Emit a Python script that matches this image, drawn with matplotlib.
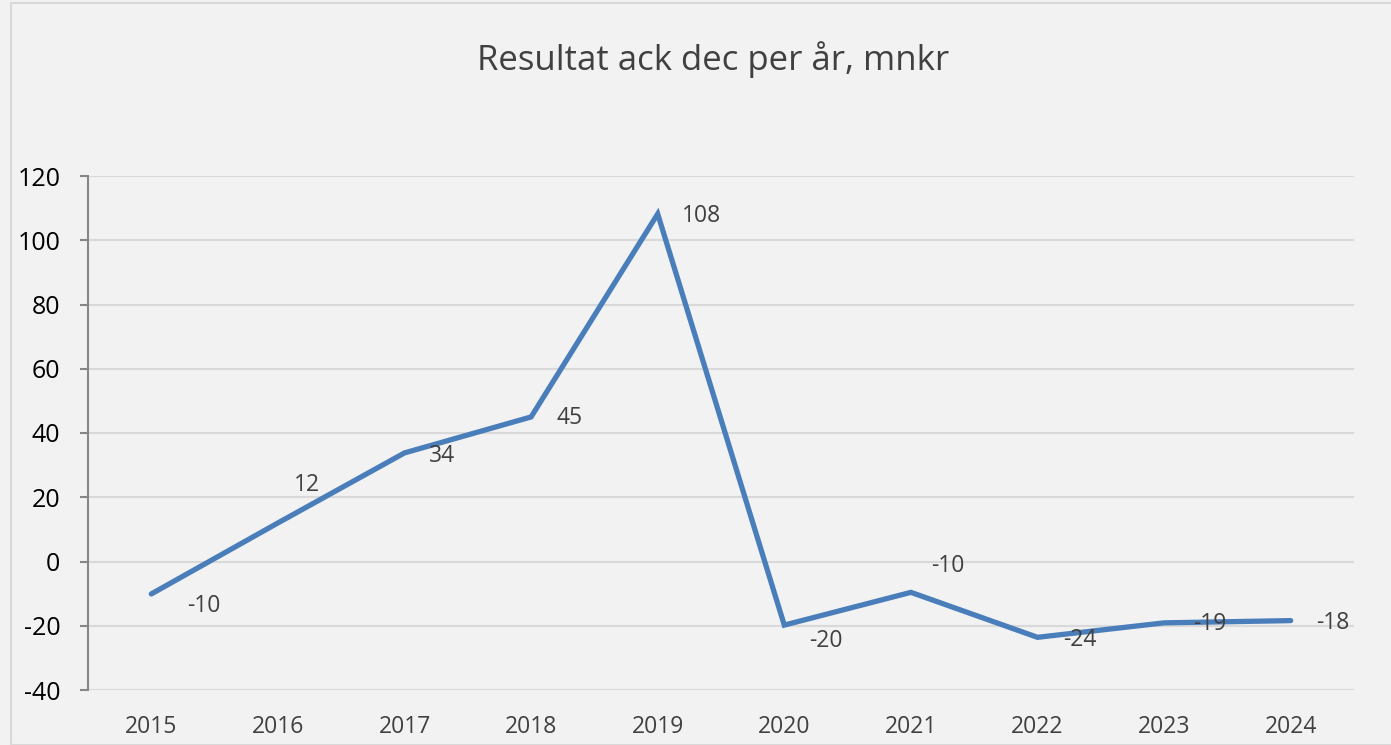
import matplotlib
matplotlib.use('Agg')
import matplotlib.pyplot as plt
from matplotlib.patches import Rectangle

years = ['2015', '2016', '2017', '2018', '2019', '2020', '2021', '2022', '2023', '2024']
result = [-10.1, 12.0, 33.8, 45.0, 108.2, -19.8, -9.6, -23.6, -19.1, -18.4]
label_offsets = [(53, -12), (29, 38), (38, -3), (38, -1), (44, -2),
                 (42, -16), (37, 26), (42, -3), (46, -1), (42, -2)]
yticks = [-40, -20, 0, 20, 40, 60, 80, 100, 120]

plt.rcParams['font.family'] = ['Open Sans', 'DejaVu Sans']
plt.rcParams['axes.unicode_minus'] = False
bg = '#F2F2F2'

fig = plt.figure(figsize=(13.91, 7.45), dpi=100, facecolor=bg)
W, H = 1391, 745
# outer chart border
fig.patches.append(Rectangle((11 / W, 0), 1.0, 1 - 3 / H, transform=fig.transFigure,
                             facecolor='none', edgecolor='#D9D9D9', lw=1.5))

ax = fig.add_axes([88 / W, 1 - 690 / H, (1354 - 88) / W, (690 - 176) / H], facecolor=bg)
x = list(range(len(years)))
ax.plot(x, result, color='#4A7EBB', lw=3.8, solid_capstyle='round', solid_joinstyle='miter', zorder=3)

for xi, v, (dx, dy) in zip(x, result, label_offsets):
    ax.annotate(f'{round(v):d}', (xi, v), xytext=(dx, dy), textcoords='offset pixels',
                ha='center', va='center', fontsize=16.5, color='#404040', zorder=4)

ax.set_xlim(-0.5, len(years) - 0.5)
ax.set_ylim(-40, 120)
ax.set_yticks(yticks)
ax.set_xticks(x)
ax.set_xticklabels(years)
ax.grid(axis='y', color='#D9D9D9', lw=1.5)
ax.set_axisbelow(True)
for s in ['top', 'right', 'bottom']:
    ax.spines[s].set_visible(False)
ax.spines['left'].set_color('#868686')
ax.spines['left'].set_linewidth(1.5)
ax.tick_params(axis='y', length=6, width=1.5, color='#868686', pad=14, labelsize=18, labelcolor='black')
ax.tick_params(axis='x', length=0, pad=18, labelsize=16.5, labelcolor='#404040')

fig.text(713 / W, 1 - 60 / H, 'Resultat ack dec per år, mnkr', ha='center', va='center',
         fontsize=25, color='#404040')

fig.savefig('out.png', dpi=100, facecolor=bg)
